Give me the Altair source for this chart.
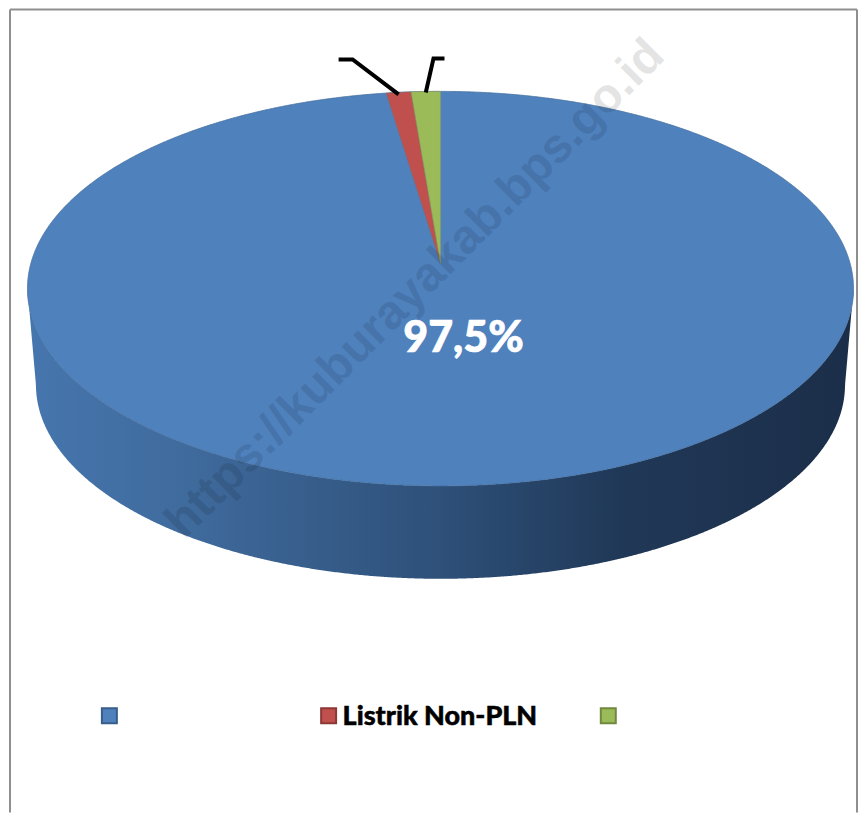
import altair as alt
import numpy as np
import pandas as pd

# --- chart content ---
legend_labels = ["", "Listrik Non-PLN", ""]
shares = [97.5, 1.15, 1.35]
fills = ["#4F81BD", "#C0504D", "#9BBB59"]
strokes = ["#385D8A", "#8C3836", "#71893F"]
value_label = "97,5%"
watermark = "https://kuburayakab.bps.go.id"

# --- layout (reference pixels) ---
W, H = 850, 805
X0, Y0 = 8, 8
CX, CY, RX, RY = 440.0, 288.5, 413.5, 197.5     # top face
BCY, BRX, BRY = 385.0, 405.0, 194.0             # bottom rim
APEX_Y = 263.0
FORESHORTEN = 0.84                              # far side of the tilted disc looks narrower
x_scale = alt.Scale(domain=[X0, X0 + W], range=[0, W], nice=False, zero=False)
y_scale = alt.Scale(domain=[Y0 + H, Y0], nice=False, zero=False)
X = alt.X("x:Q", scale=x_scale, axis=None)
Y = alt.Y("y:Q", scale=y_scale, axis=None)


def rim(deg):
    """Point on top rim, deg clockwise-negative from 12 o'clock."""
    r = np.radians(deg)
    return CX + RX * np.sin(r), CY - RY * np.cos(r)


# Top face
tt = np.linspace(0, np.pi, 721)
face = pd.DataFrame({"x": CX - RX * np.cos(tt), "y": CY - RY * np.sin(tt), "y2": CY + RY * np.sin(tt)})
face_layer = alt.Chart(face).mark_area(color=fills[0], stroke="#45709f", strokeWidth=1, strokeOpacity=0.8).encode(
    x=X, y=Y, y2="y2:Q")

# Side wall: from lower half of top face down to bottom rim
xs = CX - RX * np.cos(tt)
top_low = CY + RY * np.sin(tt)
inside = np.clip((xs - CX) / BRX, -1, 1)
bottom = BCY + BRY * np.sqrt(1 - inside ** 2)
left_e = xs < CX - BRX
right_e = xs > CX + BRX
bottom[left_e] = CY + (BCY - CY) * (xs[left_e] - (CX - RX)) / (RX - BRX)
bottom[right_e] = CY + (BCY - CY) * ((CX + RX) - xs[right_e]) / (RX - BRX)
side = pd.DataFrame({"x": xs, "y": top_low, "y2": bottom})
wall_gradient = alt.Gradient(
    gradient="linear", x1=0, x2=1, y1=0, y2=0,
    stops=[alt.GradientStop(offset=0, color="#4676AE"),
           alt.GradientStop(offset=0.2, color="#3F6A9C"),
           alt.GradientStop(offset=0.5, color="#2E5079"),
           alt.GradientStop(offset=0.72, color="#203857"),
           alt.GradientStop(offset=1, color="#1B2E49")])
side_layer = alt.Chart(side).mark_area(color=wall_gradient).encode(x=X, y=Y, y2="y2:Q")

# Small slices, fanned from the apex, running anticlockwise from 12 o'clock
green_deg = shares[2] * 3.6 * FORESHORTEN
red_deg = shares[1] * 3.6 * FORESHORTEN


def wedge(deg_from, deg_to):
    """Area between rim arc and apex edges for a wedge left of 12 o'clock."""
    x_from, y_from = rim(-deg_from)
    x_to, y_to = rim(-deg_to)
    sample = np.linspace(-deg_to, -deg_from, 30)
    rx_, ry_ = rim(sample)
    top = ry_
    xx = rx_
    low = APEX_Y + (y_to - APEX_Y) * (CX - xx) / (CX - x_to)
    df = pd.DataFrame({"x": xx, "y": top, "y2": low})
    if deg_from > 0:
        extra = np.linspace(x_from, CX, 30)[1:]
        t2 = APEX_Y + (y_from - APEX_Y) * (CX - extra) / (CX - x_from)
        l2 = APEX_Y + (y_to - APEX_Y) * (CX - extra) / (CX - x_to)
        df = pd.concat([df, pd.DataFrame({"x": extra, "y": t2, "y2": l2})])
    return df


red = wedge(green_deg, green_deg + red_deg)
green = wedge(0, green_deg)
red_layer = alt.Chart(red).mark_area(color=fills[1], stroke="#7f6a70", strokeWidth=0.6).encode(x=X, y=Y, y2="y2:Q")
green_layer = alt.Chart(green).mark_area(color=fills[2], stroke="#8a9a5a", strokeWidth=0.6).encode(x=X, y=Y, y2="y2:Q")

# Leader lines from slice mid-angles on the rim
rx1, ry1 = rim(-(green_deg + red_deg / 2))
rx2, ry2 = rim(-(green_deg / 2))
leaders = pd.DataFrame({
    "g": ["a", "a", "a", "b", "b", "b"], "i": [0, 1, 2, 0, 1, 2],
    "x": [rx1, 352, 338, rx2, 433, 444],
    "y": [ry1 + 2, 59, 59, ry2 + 1, 58, 58]})
leader_layer = alt.Chart(leaders).mark_line(color="black", strokeWidth=4, strokeJoin="miter").encode(
    x=X, y=Y, detail="g:N", order="i:Q")

# Watermark and value label
wm = alt.Chart(pd.DataFrame({"x": [415], "y": [289], "t": [watermark]})).mark_text(
    font="Liberation Sans", fontWeight="bold", fontSize=48, angle=315, color="black", opacity=0.1,
    align="center", baseline="middle").encode(x=X, y=Y, text="t:N")
val = alt.Chart(pd.DataFrame({"x": [463], "y": [339], "t": [value_label]})).mark_text(
    font="Lato", fontWeight=900, fontSize=43, color="white", stroke="white", strokeWidth=0.7,
    align="center", baseline="middle").encode(x=X, y=Y, text="t:N")

# Legend
legend = pd.DataFrame({"x": [108.5, 328, 608], "y": [716, 716, 716], "label": legend_labels,
                       "fill": fills, "stroke": strokes})
swatch = alt.Chart(legend).mark_square(size=225, opacity=1, strokeWidth=2).encode(
    x=X, y=Y, fill=alt.Fill("fill:N", scale=None), stroke=alt.Stroke("stroke:N", scale=None))
legend_text = alt.Chart(legend).mark_text(
    font="Lato", fontWeight=900, fontSize=27, color="black", stroke="black", strokeWidth=0.5,
    align="left", baseline="middle", dx=14, dy=1).encode(
    x=X, y=Y, text="label:N")

# Chart frame (the reference frame sits in the page margin; drawn at the nearest reachable position)
frame_col = "#8f8f8f"
frame = pd.DataFrame({"x": [9, 9, 857], "y": [9, 9, 9], "x2": [9, 857, 857], "y2": [Y0 + H, 9, Y0 + H]})
frame_layer = alt.Chart(frame).mark_rule(color=frame_col, strokeWidth=2).encode(x=X, y=Y, x2="x2:Q", y2="y2:Q")

chart = alt.layer(
    frame_layer, side_layer, face_layer, red_layer, green_layer, leader_layer, wm, val, swatch, legend_text
).properties(width=W, height=H, padding=0, background="white").configure_view(stroke=None)

chart.save("out.html", embed_options={"renderer": "svg", "actions": False})
